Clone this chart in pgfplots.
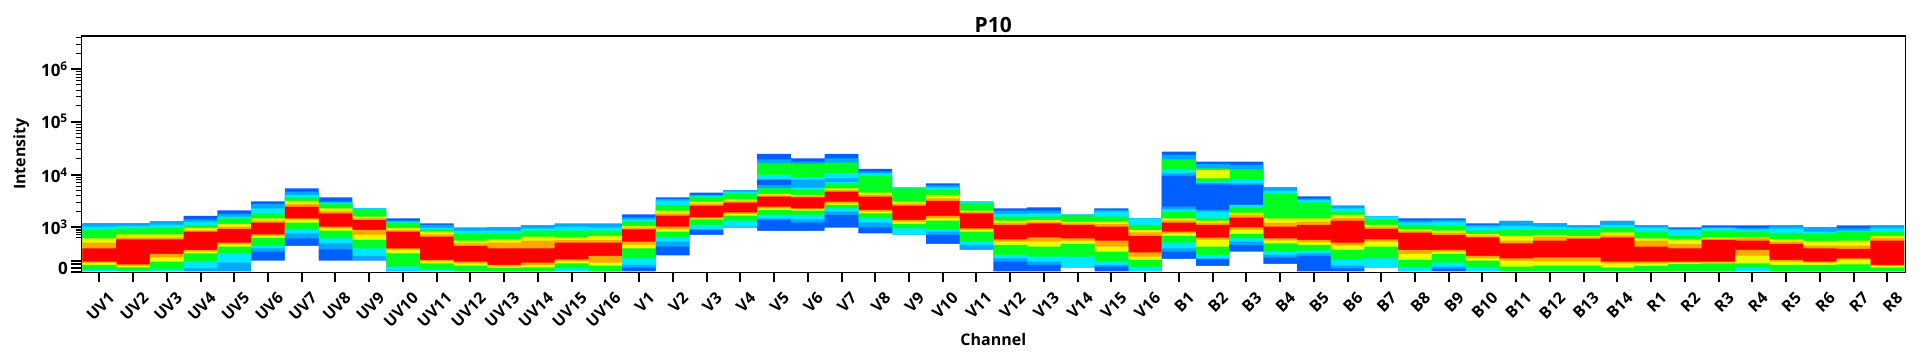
\documentclass[border=0pt]{standalone}
\usepackage{fontspec}
\setmainfont{Open Sans}
\usepackage{pgfplots}
\usepackage{pgfplotstable}
\pgfplotsset{compat=1.18}
\definecolor{cB}{HTML}{0060FF}
\definecolor{cL}{HTML}{00A8FF}
\definecolor{cC}{HTML}{00E8FF}
\definecolor{cG}{HTML}{00FF20}
\definecolor{cY}{HTML}{E8FF00}
\definecolor{cO}{HTML}{FFA800}
\definecolor{cR}{HTML}{FF0000}
\pgfplotstableread{
x a b c d e f g h i j k l m n
0 147 147 137 127 102 89 72 32 29 22 7 3 3 3
1 147 147 139 132 114 105 99 24 19 15 5 3 3 3
2 153 153 143 133 114 105 99 55 45 32 9 3 3 3
3 169 159 152 142 133 126 122 67 63 57 32 12 3 3
4 186 175 167 162 145 137 130 89 84 77 57 29 3 3
5 213 205 192 177 162 155 149 114 109 103 79 72 62 35
6 252 242 232 225 214 205 197 162 157 149 129 117 102 79
7 225 213 209 205 192 184 177 137 132 125 102 87 69 35
8 192 192 192 187 167 162 157 127 112 97 72 49 35 35
9 162 155 152 149 133 127 122 72 67 57 17 5 3 3
10 147 142 134 129 122 114 107 37 33 27 9 3 3 3
11 134 134 125 115 95 87 79 32 27 20 3 3 3 3
12 135 135 125 115 99 89 72 22 18 14 3 3 3 3
13 141 141 132 125 107 95 72 29 22 15 3 3 3 3
14 146 146 137 125 105 97 89 39 34 27 12 3 3 3
15 146 146 135 125 109 97 89 49 29 20 3 3 3 3
16 174 165 159 153 139 134 129 92 83 72 42 22 14 3
17 225 220 215 202 185 177 170 137 130 122 105 92 77 51
18 239 232 229 227 212 206 200 165 162 159 142 129 127 112
19 246 246 242 237 219 214 209 180 175 170 155 137 134 134
20 262 262 252 252 235 231 227 197 192 187 172 162 157 124
21 255 255 255 247 232 229 225 192 189 185 172 159 149 124
22 272 272 272 267 252 247 242 212 207 202 192 182 172 134
23 310 302 297 289 239 233 227 187 182 177 162 149 135 117
24 254 254 254 252 212 206 200 157 152 145 132 112 112 112
25 267 261 255 247 232 222 214 169 162 155 129 122 112 85
26 212 212 212 207 185 181 177 132 127 122 92 82 67 67
27 192 185 175 167 155 149 142 99 92 82 52 42 32 3
28 195 185 177 167 157 152 147 105 92 77 47 32 22 3
29 173 173 173 172 152 147 142 102 95 85 47 14 14 14
30 192 187 182 167 152 145 137 95 77 62 32 22 17 3
31 162 162 162 142 127 120 109 60 47 37 15 3 3 3
32 197 197 189 182 162 156 149 122 117 109 89 72 62 40
33 187 187 182 162 155 149 142 104 97 77 52 42 39 19
34 202 202 202 195 179 172 164 135 127 115 102 92 82 62
35 255 255 245 235 162 149 137 102 96 87 62 52 44 25
36 228 221 217 209 162 152 142 97 90 82 65 57 49 3
37 200 200 192 182 172 163 155 89 81 67 37 20 12 3
38 168 168 168 159 142 136 130 99 92 77 42 14 14 14
39 162 155 149 142 129 124 119 67 55 37 14 3 3 3
40 162 157 152 139 125 119 112 67 61 55 29 17 11 3
41 147 142 137 125 115 110 105 49 42 35 14 3 3 3
42 154 154 139 127 109 95 87 42 35 17 3 3 3 3
43 147 147 137 129 112 107 95 45 32 20 3 3 3 3
44 141 141 134 129 109 105 101 45 32 20 3 3 3 3
45 154 154 142 135 120 112 105 32 27 14 3 3 3 3
46 141 141 134 122 102 95 77 32 27 19 3 3 3 3
47 135 131 127 109 99 85 72 32 29 25 3 3 3 3
48 141 135 133 125 105 101 97 32 30 27 3 3 3 3
49 141 133 129 122 105 105 95 67 50 27 14 3 3 3
50 141 141 132 117 99 92 85 37 32 22 3 3 3 3
51 135 135 122 115 94 80 72 32 29 22 3 3 3 3
52 141 132 125 122 95 80 70 42 37 24 3 3 3 3
53 141 141 132 122 109 103 95 22 19 14 3 3 3 3
}\mainbands
\pgfplotstableread{
x ua ub uc ud ue uf ug uh
20 355 339 327 292 292 292 279 277
21 342 332 325 285 285 285 277 255
22 355 342 329 297 297 297 282 272
32 362 352 339 307 307 307 297 289
33 332 325 312 307 282 272 268 264
34 332 322 309 277 277 277 267 262
}\upperbands
\begin{document}
\begin{tikzpicture}
\path[use as bounding box] (-81.3pt,-88.7pt) rectangle (1847.7pt,272.3pt);
\begin{axis}[
  scale only axis, width=1824pt, height=236.3pt,
  xmin=-0.535, xmax=53.535, ymin=0, ymax=709,
  axis on top, no markers,
  band/.style={ybar, bar width=1.004, bar shift=0pt, fill=#1, draw=none},
  axis line style={line width=1.1pt},
  xtick={0,...,53},
  xticklabels={UV1,UV2,UV3,UV4,UV5,UV6,UV7,UV8,UV9,UV10,UV11,UV12,UV13,UV14,UV15,UV16,V1,V2,V3,V4,V5,V6,V7,V8,V9,V10,V11,V12,V13,V14,V15,V16,B1,B2,B3,B4,B5,B6,B7,B8,B9,B10,B11,B12,B13,B14,R1,R2,R3,R4,R5,R6,R7,R8},
  xtick pos=bottom, ytick pos=left,
  tick align=outside,
  major tick length=10pt, minor tick length=5pt,
  tick style={black, line width=2pt},
  minor tick style={black, line width=0.8pt},
  xticklabel style={font=\fontsize{16}{18}\selectfont\bfseries, rotate=45, anchor=east, xshift=3pt, yshift=-18pt},
  ytick={12,135,292,452,609},
  yticklabels={0,10\textsuperscript{3},10\textsuperscript{4},10\textsuperscript{5},10\textsuperscript{6}},
  yticklabel style={font=\fontsize{17}{19}\selectfont\bfseries},
  extra y ticks={2,24,34},
  extra y tick labels={},
  minor ytick={105,113,120,125,130,183,211,230,246,258,269,278,286,341,369,388,404,416,427,436,444,500,528,547,563,575,586,595,603,657,685,704},
  xlabel={Channel}, xlabel style={font=\fontsize{16}{18}\selectfont\bfseries, at={(axis description cs:0.5,0)}, anchor=center, yshift=-67pt},
  ylabel={Intensity}, ylabel style={font=\fontsize{16}{18}\selectfont\bfseries, at={(axis description cs:0,0.5)}, anchor=center, yshift=60pt},
  title={P10}, title style={font=\fontsize{21}{23}\selectfont\bfseries, at={(axis description cs:0.5,1)}, anchor=center, yshift=5pt},
]
\addplot[band=cB] table[x=x,y=ua]{\upperbands};
\addplot[band=cL] table[x=x,y=ub]{\upperbands};
\addplot[band=cG] table[x=x,y=uc]{\upperbands};
\addplot[band=cY] table[x=x,y=ud]{\upperbands};
\addplot[band=cG] table[x=x,y=ue]{\upperbands};
\addplot[band=cC] table[x=x,y=uf]{\upperbands};
\addplot[band=cL] table[x=x,y=ug]{\upperbands};
\addplot[band=cB] table[x=x,y=uh]{\upperbands};
\addplot[band=cB] table[x=x,y=a]{\mainbands};
\addplot[band=cL] table[x=x,y=b]{\mainbands};
\addplot[band=cC] table[x=x,y=c]{\mainbands};
\addplot[band=cG] table[x=x,y=d]{\mainbands};
\addplot[band=cY] table[x=x,y=e]{\mainbands};
\addplot[band=cO] table[x=x,y=f]{\mainbands};
\addplot[band=cR] table[x=x,y=g]{\mainbands};
\addplot[band=cO] table[x=x,y=h]{\mainbands};
\addplot[band=cY] table[x=x,y=i]{\mainbands};
\addplot[band=cG] table[x=x,y=j]{\mainbands};
\addplot[band=cC] table[x=x,y=k]{\mainbands};
\addplot[band=cL] table[x=x,y=l]{\mainbands};
\addplot[band=cB] table[x=x,y=m]{\mainbands};
\addplot[band=white] table[x=x,y=n]{\mainbands};
\draw[gray, line width=1.6pt] (rel axis cs:1,0) -- (rel axis cs:1,1);
\end{axis}
\end{tikzpicture}
\end{document}
